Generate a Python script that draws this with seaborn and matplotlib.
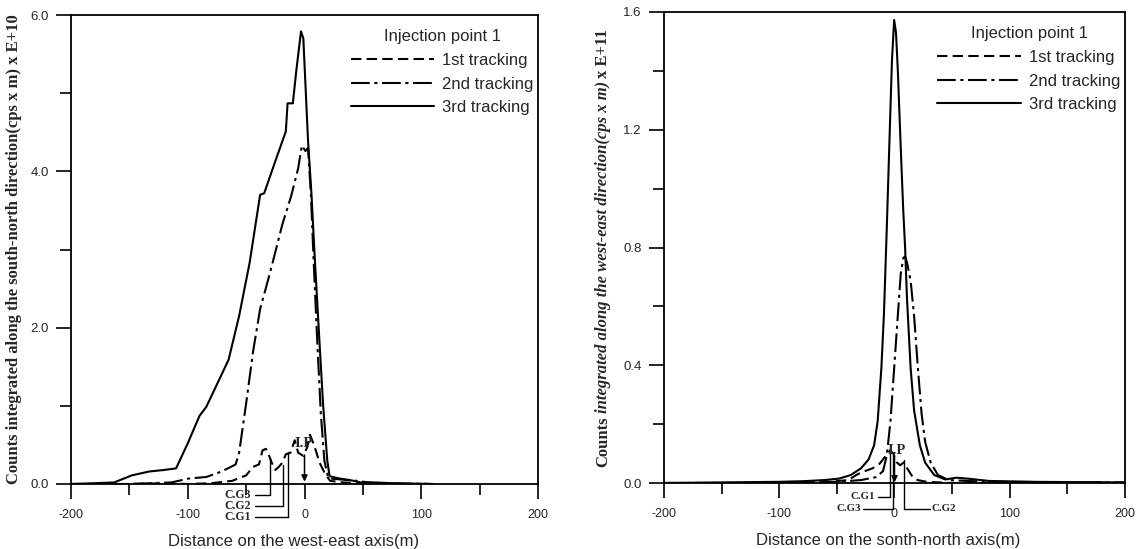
import numpy as np
import pandas as pd
import matplotlib
matplotlib.use("Agg")
import matplotlib.pyplot as plt
from matplotlib.ticker import FixedLocator, FormatStrFormatter
import seaborn as sns

# ---------------- data ----------------
series = ["1st tracking", "2nd tracking", "3rd tracking"]

# Left panel: west-east axis (x E+10)
L1_x = [-200, -150, -120, -100, -80, -62, -50, -44, -39, -36, -33, -30, -28, -25, -22, -19, -16, -12,
        -8.4, -5.4, -1, 2.3, 4.7, 8.4, 13, 17.6, 22, 33, 60, 110]
L1_y = [0.0, 0.0, 0.01, 0.0, 0.01, 0.04, 0.11, 0.22, 0.25, 0.43, 0.45, 0.35, 0.27, 0.18, 0.22, 0.27, 0.38, 0.40,
        0.56, 0.40, 0.36, 0.47, 0.63, 0.49, 0.27, 0.13, 0.04, 0.02, 0.0, 0.0]
L2_x = [-200, -150, -114, -99, -84, -71, -59, -56, -50, -44, -38, -31.4, -27, -19, -11.5, -5.4, -2.3, 0.8,
        3, 5.5, 8, 11, 14, 17, 20, 22, 45, 60, 110]
L2_y = [0.0, 0.0, 0.02, 0.07, 0.09, 0.16, 0.25, 0.40, 1.03, 1.70, 2.24, 2.60, 2.85, 3.32, 3.68, 4.04, 4.33, 4.26,
        4.30, 3.70, 2.80, 1.80, 0.90, 0.30, 0.10, 0.07, 0.04, 0.01, 0.0]
L3_x = [-200, -180, -163, -148, -133, -120, -110, -100, -90, -84, -65, -56, -47, -38, -34.5, -25, -16, -14.5,
        -10, -7, -3, -1, 3, 6, 8.4, 12.5, 16, 19.5, 21.5, 30, 39, 48, 60, 76, 110]
L3_y = [0.0, 0.01, 0.02, 0.11, 0.16, 0.18, 0.20, 0.52, 0.87, 0.99, 1.59, 2.15, 2.83, 3.70, 3.72, 4.13, 4.51, 4.87,
        4.87, 5.29, 5.79, 5.70, 4.40, 3.70, 3.00, 1.90, 1.00, 0.30, 0.10, 0.07, 0.05, 0.02, 0.02, 0.01, 0.0]

# Right panel: south-north axis (x E+11)
R1_x = [-200, -100, -60, -40, -32, -26, -19, -13, -8, -4, -1, 2, 5, 8, 11, 15, 20, 28, 50, 200]
R1_y = [0.0, 0.0, 0.003, 0.01, 0.03, 0.04, 0.05, 0.065, 0.09, 0.11, 0.10, 0.07, 0.06, 0.07, 0.05, 0.025,
        0.01, 0.004, 0.0, 0.0]
R2_x = [-200, -100, -50, -29, -16, -10, -6.7, -3.5, -0.3, 2.9, 5.4, 7.6, 9.2, 10.8, 14, 17, 20.3, 23.5,
        26.6, 31.4, 37.7, 47, 80, 200]
R2_y = [0.0, 0.0, 0.004, 0.01, 0.02, 0.04, 0.093, 0.21, 0.39, 0.57, 0.71, 0.764, 0.77, 0.75, 0.687, 0.568,
        0.39, 0.235, 0.14, 0.069, 0.027, 0.01, 0.004, 0.002]
R3_x = [-200, -150, -100, -80, -60.5, -48, -38, -29, -22.5, -17.7, -14.6, -11.4, -9.2, -6.7, -4.4, -2.2,
        -0.3, 1.3, 2.9, 5.4, 7.6, 9.2, 10.8, 14, 17, 22, 26.6, 34.5, 44, 53.6, 63, 82, 120, 200]
R3_y = [0.0, 0.002, 0.004, 0.006, 0.01, 0.015, 0.027, 0.05, 0.08, 0.128, 0.21, 0.39, 0.57, 0.865, 1.16,
        1.436, 1.573, 1.53, 1.40, 1.14, 0.925, 0.80, 0.63, 0.39, 0.247, 0.128, 0.069, 0.027, 0.012, 0.018,
        0.015, 0.007, 0.004, 0.002]

x_major = [-200, -100, 0, 100, 200]
x_minor = [-150, -50, 50, 150]
L_y_major = [0.0, 2.0, 4.0, 6.0]
L_y_minor = [1.0, 3.0, 5.0]
R_y_major = [0.0, 0.4, 0.8, 1.2, 1.6]
R_y_minor = [0.2, 0.6, 1.0, 1.4]

legend_title = "Injection point 1"
L_xlabel = "Distance on the west-east axis(m)"
R_xlabel = "Distance on the sonth-north axis(m)"
L_ylabel = "Counts integrated along the south-north direction(cps x m) x E+10"
R_ylabel_parts = ["Counts", "integrated along the west-east direction(cps x m)", "x E+11"]

# centre-of-gravity markers: (label, x, top y, bottom y, text x, line start x, text ha, fontsize)
L_cg = [("C.G3", -29.5, 0.33, -0.14, -46, -42, "right", 8.5),
        ("C.G2", -18.7, 0.24, -0.28, -46, -42, "right", 8.5),
        ("C.G1", -13.9, 0.41, -0.42, -46, -42, "right", 8.5)]
R_cg = [("C.G1", -3.9, 0.119, -0.047, -16.5, -14.0, "right", 7.8),
        ("C.G3", -1.3, 0.095, -0.088, -29.0, -27.0, "right", 7.8),
        ("C.G2", 8.2, 0.078, -0.088, 32.5, 30.8, "left", 7.8)]
L_ip = (-0.4, 0.52, 0.37, 0.03)   # text x, text y, arrow start y, arrow end y
R_ip = (2.2, 0.109, 0.088, 0.002)

# ---------------- style ----------------
sns.set_style("ticks")
plt.rcParams["font.family"] = ["Liberation Sans", "DejaVu Sans"]
plt.rcParams["axes.linewidth"] = 1.3
plt.rcParams["axes.unicode_minus"] = False

def long_df(xs, ys):
    frames = [pd.DataFrame({"x": x, "y": y, "series": n}) for n, x, y in zip(series, xs, ys)]
    return pd.concat(frames, ignore_index=True)

dash_map = {"1st tracking": (5, 2.5), "2nd tracking": (9, 2.2, 1.5, 2.2), "3rd tracking": ""}

fig = plt.figure(figsize=(11.42, 5.49), dpi=100)
axL = fig.add_axes([71 / 1142, (549 - 484) / 549, 467 / 1142, 469 / 549])
axR = fig.add_axes([664 / 1142, (549 - 483) / 549, 461 / 1142, 471 / 549])

def setup(ax, df, ymax, ymaj, ymin, xlabel, xlab_x):
    sns.lineplot(data=df, x="x", y="y", style="series", style_order=series, dashes=dash_map,
                 color="black", lw=1.5, estimator=None, sort=False, ax=ax)
    ax.set_xlim(-200, 200)
    ax.set_ylim(0, ymax)
    ax.set_ylabel("")
    ax.xaxis.set_major_locator(FixedLocator(x_major))
    ax.xaxis.set_minor_locator(FixedLocator(x_minor))
    ax.yaxis.set_major_locator(FixedLocator(ymaj))
    ax.yaxis.set_minor_locator(FixedLocator(ymin))
    ax.yaxis.set_major_formatter(FormatStrFormatter("%.1f"))
    ax.tick_params(axis="both", which="major", direction="out", length=11, width=1.2, color="black")
    ax.tick_params(axis="both", which="minor", direction="out", length=8, width=1.2, color="black")
    ax.tick_params(axis="x", which="major", labelsize=9, pad=7)
    ax.tick_params(axis="y", which="major", labelsize=9.5, pad=5)
    for s in ax.spines.values():
        s.set_visible(True)
        s.set_color("black")
        s.set_linewidth(1.3)
    ax.set_xlabel(xlabel, fontsize=12, fontfamily="Liberation Sans")
    ax.xaxis.set_label_coords(xlab_x, -0.122)
    ax.xaxis.label.set_va("center")
    handles, labels = ax.get_legend_handles_labels()
    hl = [(h, l) for h, l in zip(handles, labels) if l in series]
    ax.legend([h for h, _ in hl], [l for _, l in hl], title=legend_title, loc="upper right",
              bbox_to_anchor=(1.012, 0.991), frameon=False, fontsize=12, title_fontsize=12,
              handlelength=5.0, handletextpad=0.5, labelspacing=0.52, borderaxespad=0.2)

setup(axL, long_df([L1_x, L2_x, L3_x], [L1_y, L2_y, L3_y]), 6.0, L_y_major, L_y_minor, L_xlabel, 0.477)
setup(axR, long_df([R1_x, R2_x, R3_x], [R1_y, R2_y, R3_y]), 1.6, R_y_major, R_y_minor, R_xlabel, 0.486)

serif = "Liberation Serif"
def marks(ax, cg, ip):
    for lab, xv, yt, yb, tx, lx, ha, fs in cg:
        ax.plot([xv, xv], [yt, yb], color="black", lw=1.0, clip_on=False)
        ax.plot([lx, xv], [yb, yb], color="black", lw=1.0, clip_on=False)
        ax.text(tx, yb, lab, ha=ha, va="center", fontsize=fs, fontfamily=serif, fontweight="bold",
                clip_on=False)
    tx, ty, ay0, ay1 = ip
    ax.text(tx, ty, "I.P", ha="center", va="center", fontsize=10.5, fontfamily=serif, fontweight="bold")
    ax.annotate("", xy=(0, ay1), xytext=(0, ay0),
                arrowprops=dict(arrowstyle="-|>", lw=1.1, color="black", mutation_scale=9,
                                shrinkA=0, shrinkB=0))

marks(axL, L_cg, L_ip)
marks(axR, R_cg, R_ip)

axL.set_ylabel(L_ylabel, fontsize=12, fontfamily=serif, fontweight="bold")
axL.yaxis.set_label_coords(-0.122, 0.5)
axL.yaxis.label.set_va("center")

# right y label with mixed styles, stacked along a shared baseline
fig.canvas.draw()
renderer = fig.canvas.get_renderer()
styles = ["normal", "italic", "normal"]
pieces = []
for txt, st in zip(R_ylabel_parts, styles):
    t = fig.text(0, 0, txt, fontsize=12, fontfamily=serif, fontweight="bold", fontstyle=st,
                 rotation=90, rotation_mode="anchor", ha="left", va="baseline")
    pieces.append(t)
lengths = [p.get_window_extent(renderer).height for p in pieces]
gap = 3.5
total = sum(lengths) + gap * (len(pieces) - 1)
base_x = 607 / 1142
y_px = 301 - total / 2
for p, L in zip(pieces, lengths):
    p.set_position((base_x, y_px / 549))
    y_px += L + gap

fig.savefig("out.png", dpi=100)
